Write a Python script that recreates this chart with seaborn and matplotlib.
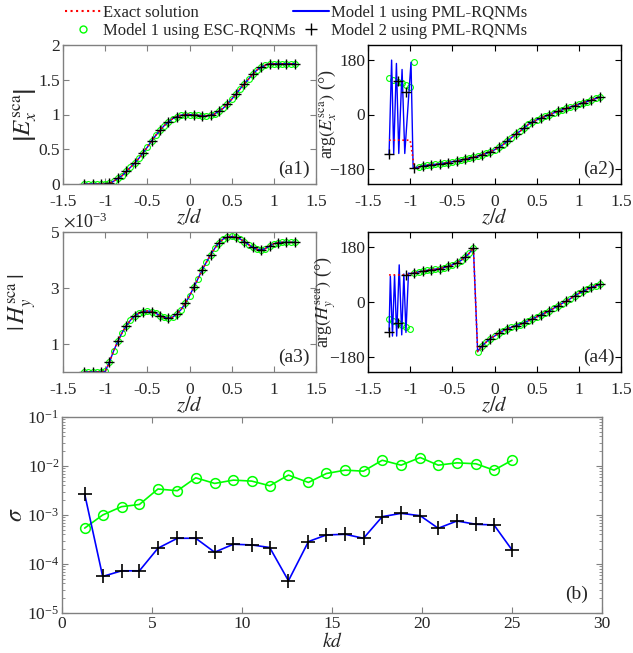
import numpy as np
import matplotlib
matplotlib.use("Agg")
import matplotlib.pyplot as plt
from matplotlib.lines import Line2D
from matplotlib.ticker import ScalarFormatter, LogLocator, NullFormatter
import seaborn as sns

# ---- data ----
# field profiles sampled along z/d (step 0.05); PML-RQNM Model 2 markers on every other sample
z = np.round(np.arange(-1.25, 1.2501, 0.05), 2)

ex_abs = [0, 0, 0, 0, 0, 0, 0.01, 0.04, 0.08, 0.12, 0.18,
          0.24, 0.30, 0.37, 0.45, 0.53, 0.62, 0.70, 0.77, 0.84,
          0.89, 0.94, 0.97, 0.99, 1.00, 1.00, 0.99, 0.99, 0.98, 0.98,
          0.99, 1.01, 1.05, 1.09, 1.15, 1.22, 1.29, 1.37, 1.44, 1.51,
          1.58, 1.64, 1.68, 1.71, 1.73, 1.73, 1.73, 1.73, 1.73, 1.73, 1.73]

ex_arg = [-85, -85, -85, -85, -85, -85,
          -176, -174, -170, -168, -166, -165, -163, -161, -159, -156,
          -154, -151, -148, -145, -142, -138, -133, -129, -123,
          -117, -109, -100, -89, -77, -65, -56, -45, -33, -25, -18,
          -12, -6, 0, 5, 10, 15, 20, 25, 29, 34, 39, 43, 48, 53, 58]

hy_abs = [0, 0, 0, 0, 0,
          0.02, 0.35, 0.75, 1.1, 1.4, 1.65, 1.85, 2.0, 2.1, 2.16,
          2.18, 2.16, 2.1, 2.01, 1.95, 1.92, 1.96, 2.07, 2.23, 2.45,
          2.72, 3.02, 3.33, 3.64, 3.92, 4.18, 4.42, 4.62, 4.75, 4.82,
          4.84, 4.81, 4.75, 4.66, 4.55, 4.45, 4.38, 4.36, 4.41, 4.5,
          4.58, 4.62, 4.63, 4.63, 4.63, 4.63]  # x 1e-3

hy_arg = [89, 89, 89, 89, 89,
          93, 96, 99, 101, 104, 106, 108, 110, 113, 117, 122, 128,
          136, 147, 160, 178, -163, -145, -132, -120,
          -112, -103, -95, -88, -83, -78, -74, -68, -62, -55, -49,
          -43, -36, -29, -21, -13, -5, 3, 11, 20, 28, 35, 42, 48, 53, 58]

# deviations inside the outer region z/d < -0.95
ex_arg_pml1_z = [-1.25, -1.22, -1.195, -1.163, -1.135, -1.096, -1.064, -0.99, -0.965]
ex_arg_pml1 = [-131, 180, -129, 169, -129, 149, -129, 173, -176]
ex_arg_esc_head = [120, 115, 109, 105, 97, 92, 175]
ex_arg_pml2_head = [-131, 112, 75, -176]

hy_arg_pml1_z = [-1.25, -1.235, -1.21, -1.185, -1.16, -1.13, -1.10, -1.075, -1.05, -1.02]
hy_arg_pml1 = [-95, 85, -112, 88, -112, 122, -108, 92, -100, 95]
hy_arg_esc_head = [-56, -62, -69, -76, -83, -89]
hy_arg_pml2_head = [-97, -70, 88]

# error versus kd
kd = [1.26, 2.26, 3.31, 4.30, 5.33, 6.41, 7.43, 8.48, 9.52, 10.54, 11.54, 12.58,
      13.69, 14.69, 15.73, 16.75, 17.79, 18.84, 19.90, 20.90, 21.94, 23.0, 24.0, 25.0]
sigma_esc = [5.4e-4, 1.0e-3, 1.48e-3, 1.64e-3, 3.39e-3, 3.13e-3, 5.74e-3, 4.41e-3,
             5.15e-3, 4.92e-3, 3.95e-3, 6.52e-3, 4.62e-3, 7.03e-3, 8.22e-3, 7.85e-3,
             1.31e-2, 1.04e-2, 1.49e-2, 1.04e-2, 1.16e-2, 1.11e-2, 8.22e-3, 1.31e-2]
sigma_pml = [2.67e-3, 5.57e-5, 7.26e-5, 7.26e-5, 2.10e-4, 3.35e-4, 3.35e-4, 1.74e-4,
             2.53e-4, 2.45e-4, 2.17e-4, 4.55e-5, 2.87e-4, 3.92e-4, 4.04e-4, 3.35e-4,
             9.25e-4, 1.08e-3, 9.68e-4, 5.36e-4, 7.55e-4, 6.46e-4, 6.26e-4, 1.94e-4]

GREEN = "#00ff00"
BLUE = "#0000ff"
RED = "#ff0000"

sns.set_theme(style="ticks")
plt.rcParams["font.family"] = ["Liberation Serif", "DejaVu Serif"]
plt.rcParams["mathtext.fontset"] = "stix"


def style_axis(ax, spine_color):
    for s in ax.spines.values():
        s.set_color(spine_color)
        s.set_linewidth(1.0)
    ax.tick_params(direction="in", top=True, right=True, length=4, width=0.8,
                   color=spine_color, labelsize=12.5)
    ax.tick_params(axis="x", pad=7)
    ax.tick_params(axis="y", pad=2)
    ax.tick_params(which="minor", direction="in", top=False, right=True,
                   length=2, width=0.6, color=spine_color)


def draw_profile(ax, exact, esc, pml1_z, pml1, pml2):
    z_arr = np.asarray(z)
    sns.lineplot(x=z_arr, y=esc, ax=ax, marker="o", markersize=4.2, markerfacecolor="none",
                 markeredgecolor=GREEN, markeredgewidth=0.8, linestyle="none",
                 estimator=None, sort=False, legend=False)
    sns.lineplot(x=pml1_z, y=pml1, ax=ax, color=BLUE, linewidth=1.0,
                 estimator=None, sort=False, legend=False)
    sns.lineplot(x=z_arr, y=exact, ax=ax, color=RED, linestyle=":", linewidth=1.2,
                 estimator=None, sort=False, legend=False)
    sns.lineplot(x=z_arr[::2], y=pml2, ax=ax, marker="+", markersize=7, color="black",
                 markeredgecolor="black", markeredgewidth=1.0, linestyle="none",
                 estimator=None, sort=False, legend=False)
    ax.set_xlim(-1.5, 1.5)
    ax.set_xticks([-1.5, -1, -0.5, 0, 0.5, 1, 1.5])
    ax.set_xticklabels(["-1.5", "-1", "-0.5", "0", "0.5", "1", "1.5"])
    ax.set_xlabel(r"$z/d$", fontsize=15, labelpad=-1)


fig = plt.figure(figsize=(6.33, 6.53), dpi=100)
W, H = 633.0, 653.0
ax1 = fig.add_axes([63 / W, 1 - 184 / H, 253 / W, 139 / H])
ax2 = fig.add_axes([368 / W, 1 - 184 / H, 253 / W, 139 / H])
ax3 = fig.add_axes([63 / W, 1 - 372 / H, 253 / W, 140 / H])
ax4 = fig.add_axes([368 / W, 1 - 372 / H, 253 / W, 140 / H])
axb = fig.add_axes([62 / W, 1 - 613 / H, 540 / W, 196 / H])

z_arr = np.asarray(z)

# (a1) |Ex|
ex_abs_a = np.asarray(ex_abs)
draw_profile(ax1, ex_abs_a, ex_abs_a, z_arr, ex_abs_a, ex_abs_a[::2])
ax1.set_ylim(0, 2)
ax1.set_yticks([0, 0.5, 1, 1.5, 2])
ax1.set_yticklabels(["0", "0.5", "1", "1.5", "2"])
ax1.set_ylabel(r"$\left|E_x^{\rm sca}\right|$", fontsize=18)
ax1.yaxis.set_label_coords(-0.095, 0.5)
style_axis(ax1, "#808080")

# (a2) arg(Ex)
ex_arg_a = np.asarray(ex_arg, dtype=float)
mask = z_arr >= -0.95
esc2 = np.concatenate([ex_arg_esc_head, ex_arg_a[7:]])
pml1_z2 = np.concatenate([ex_arg_pml1_z, z_arr[mask]])
pml1_2 = np.concatenate([ex_arg_pml1, ex_arg_a[mask]])
pml2_2 = np.concatenate([ex_arg_pml2_head, ex_arg_a[::2][4:]])
draw_profile(ax2, ex_arg_a, esc2, pml1_z2, pml1_2, pml2_2)
ax2.set_ylim(-230, 230)
ax2.set_yticks([-180, 0, 180])
ax2.set_ylabel(r"arg$(E_x^{\rm sca})$ (°)", fontsize=13)
ax2.yaxis.set_label_coords(-0.115, 0.5)
style_axis(ax2, "black")

# (a3) |Hy|
hy_abs_a = np.asarray(hy_abs) * 1e-3
draw_profile(ax3, hy_abs_a, hy_abs_a, z_arr, hy_abs_a, hy_abs_a[::2])
ax3.set_ylim(0, 5e-3)
ax3.set_yticks([1e-3, 3e-3, 5e-3])
fmt = ScalarFormatter(useMathText=True)
fmt.set_powerlimits((0, 0))
ax3.yaxis.set_major_formatter(fmt)
ax3.yaxis.get_offset_text().set_fontsize(13)
ax3.set_ylabel(r"$|\,H_y^{\rm sca}\,|$", fontsize=17)
ax3.yaxis.set_label_coords(-0.095, 0.5)
style_axis(ax3, "#808080")

# (a4) arg(Hy)
hy_arg_a = np.asarray(hy_arg, dtype=float)
mask4 = z_arr >= -1.0
esc4 = np.concatenate([hy_arg_esc_head, hy_arg_a[6:]])
pml1_z4 = np.concatenate([hy_arg_pml1_z, z_arr[mask4]])
pml1_4 = np.concatenate([hy_arg_pml1, hy_arg_a[mask4]])
pml2_4 = np.concatenate([hy_arg_pml2_head, hy_arg_a[::2][3:]])
draw_profile(ax4, hy_arg_a, esc4, pml1_z4, pml1_4, pml2_4)
ax4.set_ylim(-230, 230)
ax4.set_yticks([-180, 0, 180])
ax4.set_ylabel(r"arg$(H_y^{\rm sca})$ (°)", fontsize=13)
ax4.yaxis.set_label_coords(-0.115, 0.5)
style_axis(ax4, "black")

for ax, lab in [(ax1, "(a1)"), (ax2, "(a2)"), (ax3, "(a3)"), (ax4, "(a4)")]:
    ax.text(0.975, 0.04, lab, transform=ax.transAxes, ha="right", va="bottom", fontsize=14)

# (b) error vs kd
sns.lineplot(x=kd, y=sigma_esc, ax=axb, color=GREEN, linewidth=1.2, marker="o",
             markersize=7, markerfacecolor="none", markeredgecolor=GREEN,
             markeredgewidth=1.1, estimator=None, sort=False, legend=False)
sns.lineplot(x=kd, y=sigma_pml, ax=axb, color=BLUE, linewidth=1.2,
             estimator=None, sort=False, legend=False)
sns.lineplot(x=kd, y=sigma_pml, ax=axb, color="black", marker="+", markersize=10,
             markeredgecolor="black", markeredgewidth=1.2, linestyle="none",
             estimator=None, sort=False, legend=False)
axb.set_yscale("log")
axb.set_ylim(1e-5, 1e-1)
axb.set_xlim(0, 30)
axb.set_xticks([0, 5, 10, 15, 20, 25, 30])
axb.yaxis.set_major_locator(LogLocator(base=10, numticks=10))
axb.yaxis.set_minor_locator(LogLocator(base=10, subs=np.arange(2, 10), numticks=10))
axb.yaxis.set_minor_formatter(NullFormatter())
axb.set_ylabel(r"$\sigma$", fontsize=17, labelpad=0)
axb.text(0.975, 0.05, "(b)", transform=axb.transAxes, ha="right", va="bottom", fontsize=14)
style_axis(axb, "#808080")
axb.tick_params(axis="x", pad=2)
axb.set_xlabel(r"$kd$", fontsize=14, labelpad=0)

# legend above the panels
h_exact = Line2D([], [], color=RED, linestyle=":", linewidth=1.5)
h_esc = Line2D([], [], marker="o", markersize=5, markerfacecolor="none",
               markeredgecolor=GREEN, linestyle="none")
h_pml1 = Line2D([], [], color=BLUE, linewidth=1.5)
h_pml2 = Line2D([], [], marker="+", markersize=8, color="black", linestyle="none")
fig.legend([h_exact, h_esc], ["Exact solution", "Model 1 using ESC-RQNMs"],
           loc="upper left", bbox_to_anchor=(58 / W, 1 + 2 / H), frameon=False,
           fontsize=12, handlelength=2.2, handletextpad=0.1, labelspacing=0.15,
           borderaxespad=0)
fig.legend([h_pml1, h_pml2], ["Model 1 using PML-RQNMs", "Model 2 using PML-RQNMs"],
           loc="upper left", bbox_to_anchor=(286 / W, 1 + 2 / H), frameon=False,
           fontsize=12, handlelength=2.2, handletextpad=0.1, labelspacing=0.15,
           borderaxespad=0)

fig.savefig("out.png", dpi=100)
